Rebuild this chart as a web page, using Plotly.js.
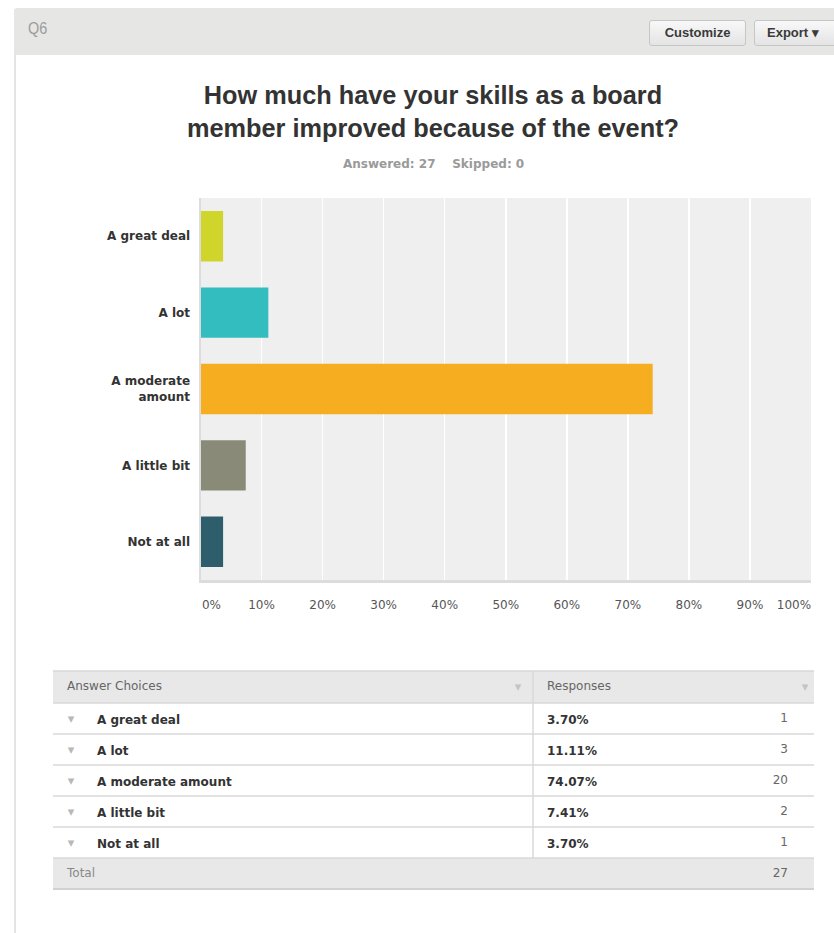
<!DOCTYPE html>
<html>
<head>
<meta charset="utf-8">
<script src="https://cdn.plot.ly/plotly-3.0.1.min.js"></script>
<style>
html,body{margin:0;padding:0;background:#fff;width:834px;height:933px;overflow:hidden;font-family:"Liberation Sans",Arial,sans-serif;}
#frame{position:absolute;left:14px;top:8px;width:840px;height:960px;border-left:2px solid #e4e4e4;border-top:1px solid #dedede;border-top-left-radius:4px;box-sizing:border-box;z-index:0;}
#hdr{position:absolute;left:14px;top:8px;width:830px;height:47px;background:#e6e6e5;border-top-left-radius:4px;z-index:2;}
#q{position:absolute;left:14px;top:11px;font-family:"Liberation Sans Narrow","Liberation Sans",Arial,sans-serif;font-size:17px;color:#9c9c9c;transform:scaleX(0.85);transform-origin:left center;}
.btn{position:absolute;top:12px;height:24px;border:1px solid #c6c6c6;border-radius:3px;background:linear-gradient(#f8f8f8,#e4e4e4);font-family:"Liberation Sans Narrow","Liberation Sans",Arial,sans-serif;font-weight:bold;font-size:13px;color:#3a3a3a;line-height:24px;text-align:center;box-sizing:content-box;}
#plot{position:absolute;left:0;top:0;width:834px;height:933px;z-index:1;}
</style>
</head>
<body>
<div id="frame"></div>
<div id="hdr">
  <div id="q">Q6</div>
  <div class="btn" style="left:635px;width:95px;">Customize</div>
  <div class="btn" style="left:740px;width:100px;text-align:left;padding-left:12px;">Export &#9662;</div>
</div>
<div id="plot"></div>
<script>
// ---- data ----
const categories = ['A great deal', 'A lot', 'A moderate amount', 'A little bit', 'Not at all'];
const tickLabels = ['A great deal', 'A lot', 'A moderate<br>amount', 'A little bit', 'Not at all'];
const percents = [3.70, 11.11, 74.07, 7.41, 3.70];
const counts = [1, 3, 20, 2, 1];
const total = 27;
const answered = 27;
const skipped = 0;
const barColors = ['#cfd52a', '#33bdbf', '#f6ae20', '#8a8a79', '#2e5e6c'];
const xTicks = [0, 10, 20, 30, 40, 50, 60, 70, 80, 90, 100];
const xTickText = ['0%', '10%', '20%', '30%', '40%', '50%', '60%', '70%', '80%', '90%', '100%'];
const titleText = 'How much have your skills as a board<br>member improved because of the event?';
const headerLabels = ['Answer Choices', 'Responses'];
const totalLabel = 'Total';

// ---- figure ----
const W = 834, H = 933;
const fx = px => px / W;
const fy = py => 1 - py / H;
const TFONT = '"Liberation Sans", Arial, sans-serif';
const FONT = '"DejaVu Sans", Verdana, sans-serif';
const nbsp = '\u00a0';
const pad = '\u2005\u2005';
const clear = 'rgba(0,0,0,0)';

const bar = {
  type: 'bar', orientation: 'h',
  y: categories, x: percents,
  marker: {color: barColors, line: {width: 0}},
  hoverinfo: 'none',
  xaxis: 'x', yaxis: 'y'
};

const white = '#ffffff', grayFill = '#e8e8e8';
const rowFill = categories.map(() => white).concat([grayFill]);

// table geometry (pixels)
const tblL = 53, tblR = 814, tblTop = 671, hdrH = 32, rowH = 31, divX = 533, textShift = 2;
const nRows = categories.length + 1;
const tblBot = tblTop + hdrH + nRows * rowH;
const blank = categories.map(() => '').concat(['']);

// background fills only
const fillTable = {
  type: 'table',
  domain: {x: [fx(tblL), fx(tblR)], y: [fy(tblBot), fy(tblTop)]},
  columnwidth: [tblR - tblL],
  header: {values: [''], height: hdrH, fill: {color: grayFill}, line: {width: 0, color: clear}},
  cells: {values: [blank], height: rowH, fill: {color: [rowFill]}, line: {width: 0, color: clear},
          font: {family: FONT, size: 12}}
};

const textDomain = {x: [fx(tblL), fx(tblR)], y: [fy(tblBot + textShift), fy(tblTop + textShift)]};

const baseTable = {
  type: 'table',
  domain: textDomain,
  columnwidth: [divX - tblL, tblR - divX],
  header: {
    values: headerLabels.map(h => pad + h),
    align: 'left', height: hdrH,
    fill: {color: clear},
    line: {color: clear, width: 0},
    font: {family: FONT, size: 12, color: '#666'}
  },
  cells: {
    values: [categories.map(() => '').concat([pad + totalLabel]),
             percents.map(v => pad + '<b>' + v.toFixed(2) + '%</b>').concat([''])],
    align: 'left', height: rowH,
    fill: {color: clear},
    line: {color: clear, width: 0},
    font: {family: FONT, size: 12, color: ['#888', '#333']}
  }
};

const arrow = '\u25BE';
const overlayTable = {
  type: 'table',
  domain: textDomain,
  columnwidth: [36, 419, 20, 5, 263, 18],
  header: {
    values: ['', '', arrow, '', '', arrow],
    align: 'center', height: hdrH,
    fill: {color: clear},
    line: {width: 0, color: clear},
    font: {family: FONT, size: 13, color: '#c4c4c4'}
  },
  cells: {
    values: [
      categories.map(() => arrow).concat(['']),
      categories.map(c => '<b>' + c + '</b>').concat(['']),
      blank, blank,
      counts.map(String).concat([String(total)]),
      blank
    ],
    align: ['center', 'left', 'center', 'center', 'right', 'center'],
    height: rowH,
    fill: {color: clear},
    line: {width: 0, color: clear},
    font: {family: FONT, size: [13, 12, 12, 12, 12, 12], color: ['#b8b8b8', '#333', '#333', '#333', '#666', '#333']}
  }
};

// table rule lines
const shapes = [];
for (let i = 0; i <= nRows; i++) {
  const yy = i === 0 ? tblTop : tblTop + hdrH + (i - 1) * rowH;
  shapes.push({type: 'line', xref: 'paper', yref: 'paper',
    x0: fx(tblL), x1: fx(tblR), y0: fy(yy), y1: fy(yy),
    line: {color: '#d9d9d9', width: 1.5}});
}
shapes.push({type: 'line', xref: 'paper', yref: 'paper',
  x0: fx(tblL), x1: fx(tblR), y0: fy(tblBot), y1: fy(tblBot),
  line: {color: '#d2d2d2', width: 2}});
shapes.push({type: 'line', xref: 'paper', yref: 'paper',
  x0: fx(divX), x1: fx(divX), y0: fy(tblTop), y1: fy(tblBot - rowH),
  line: {color: '#d9d9d9', width: 1.5}});

// x-axis: end labels are nudged inward (as in the original) via overlaid label-only axes
const lastTick = xTicks.length - 1;
const xDomain = [fx(200.5), fx(811)];
const tickFont = {family: FONT, size: 12, color: '#555'};
const labelAxis = (idx, shift) => ({
  domain: xDomain, range: [0, 100], overlaying: 'x', anchor: 'y', side: 'bottom',
  tickvals: [xTicks[idx]], ticktext: [xTickText[idx]],
  showgrid: false, zeroline: false, showline: false,
  ticks: '', ticklabelstandoff: 16, ticklabelshift: shift,
  tickfont: tickFont, fixedrange: true
});

const layout = {
  width: W, height: H,
  margin: {l: 0, r: 0, t: 0, b: 0, pad: 0},
  paper_bgcolor: clear,
  plot_bgcolor: '#efefef',
  showlegend: false,
  bargap: 0.34,
  font: {family: FONT, color: '#333'},
  title: {
    text: titleText,
    font: {family: TFONT, size: 25.3, color: '#333', weight: 'bold'},
    x: fx(433), xanchor: 'center', xref: 'container',
    y: fy(104), yanchor: 'top', yref: 'container'
  },
  annotations: [{
    text: 'Answered: ' + answered + nbsp.repeat(4) + 'Skipped: ' + skipped,
    xref: 'paper', yref: 'paper', x: fx(433), y: fy(164),
    xanchor: 'center', yanchor: 'middle', showarrow: false,
    font: {family: FONT, size: 12, color: '#9a9a9a', weight: 'bold'}
  }],
  shapes: shapes,
  xaxis: {
    domain: xDomain,
    range: [0, 100],
    tickvals: xTicks,
    ticktext: xTickText.map((t, i) => (i === 0 || i === lastTick) ? '' : t),
    showgrid: true, gridcolor: '#ffffff', gridwidth: 1.5,
    zeroline: false,
    showline: true, linecolor: '#dcdcdc', linewidth: 3,
    ticks: '', ticklabelstandoff: 12,
    tickfont: tickFont,
    fixedrange: true
  },
  xaxis2: labelAxis(0, 11),
  xaxis3: labelAxis(lastTick, -17),
  yaxis: {
    domain: [fy(580), fy(198)],
    autorange: 'reversed',
    type: 'category',
    tickvals: categories, ticktext: tickLabels,
    showgrid: false, zeroline: false,
    showline: true, linecolor: '#dcdcdc', linewidth: 2,
    ticks: '', ticklabelstandoff: 6,
    tickfont: {family: FONT, size: 12, color: '#333', weight: 'bold'},
    fixedrange: true
  }
};

// invisible helper traces so the label-only axes are drawn
const helper2 = {type: 'scatter', x: [], y: [], xaxis: 'x2', yaxis: 'y', hoverinfo: 'none', showlegend: false};
const helper3 = {type: 'scatter', x: [], y: [], xaxis: 'x3', yaxis: 'y', hoverinfo: 'none', showlegend: false};

Plotly.newPlot('plot', [bar, helper2, helper3, fillTable, baseTable, overlayTable], layout, {displayModeBar: false, staticPlot: true});
</script>
</body>
</html>
